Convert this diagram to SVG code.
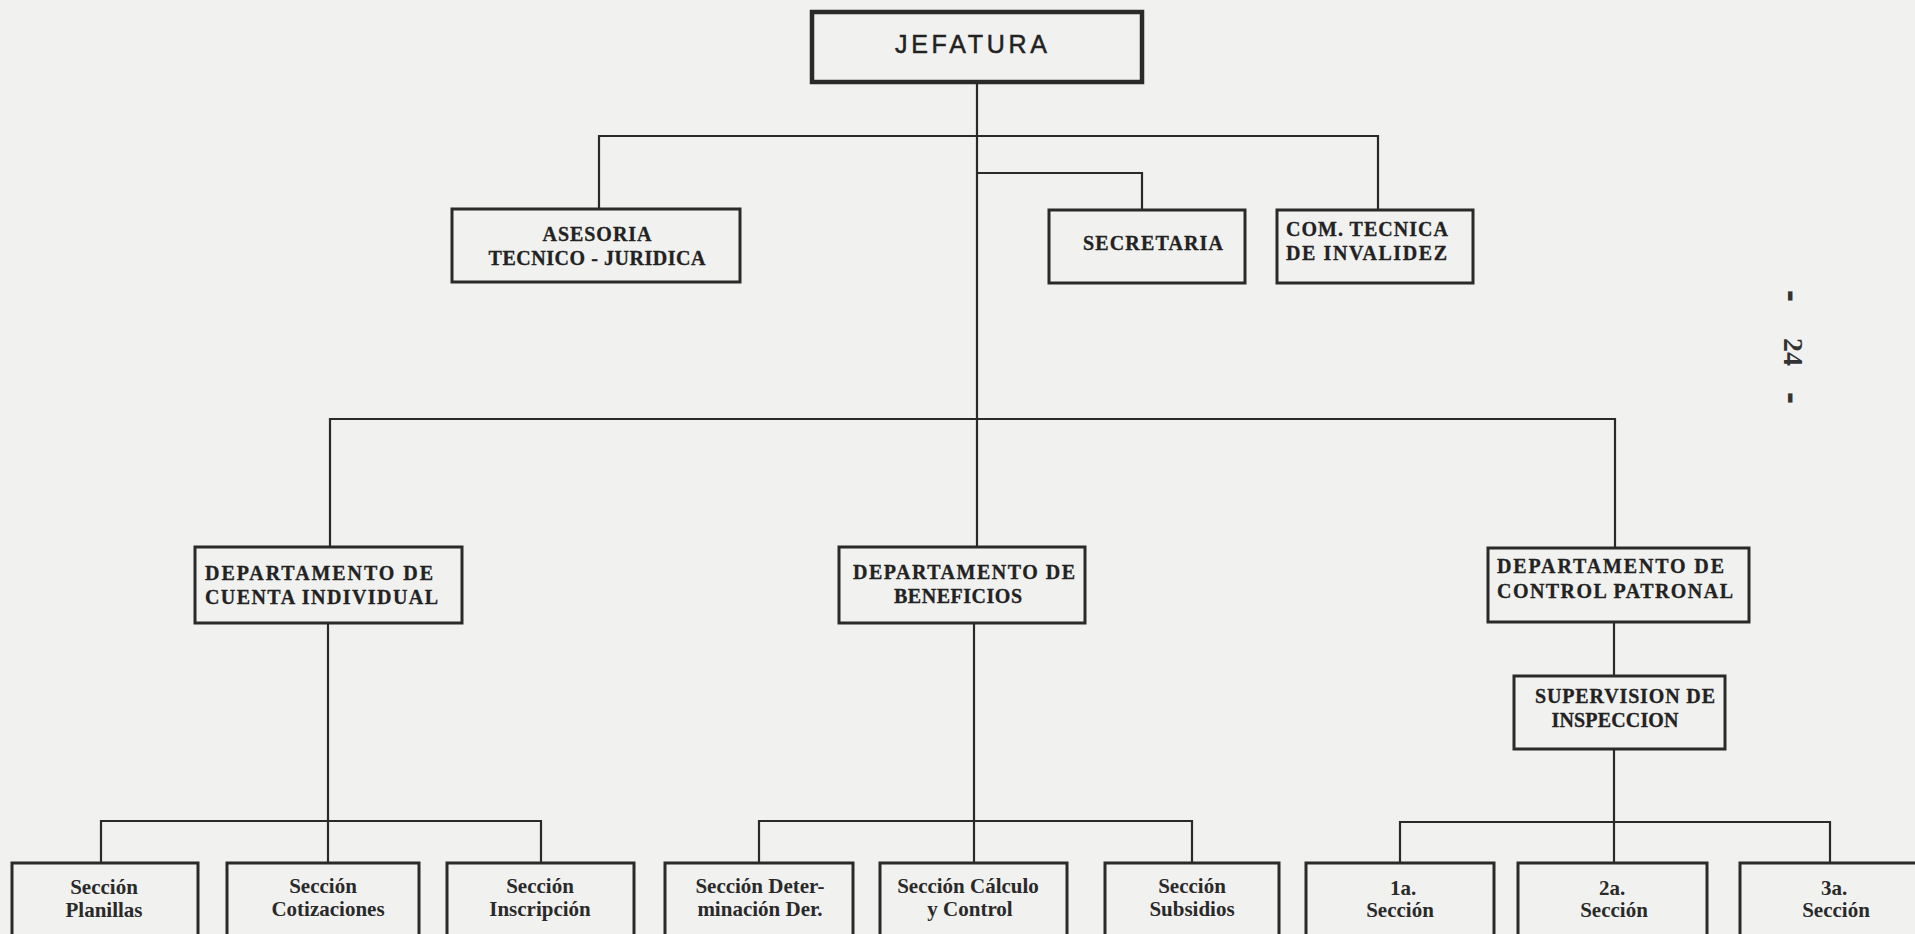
<svg xmlns="http://www.w3.org/2000/svg" width="1915" height="934" viewBox="0 0 1915 934">
<style>
.box{fill:none;stroke:#2a2a2a;stroke-width:3}
.thick{fill:none;stroke:#2a2a2a;stroke-width:4.5}
.ln{fill:none;stroke:#2a2a2a;stroke-width:2.2}
.cap{font-family:"Liberation Serif","Times New Roman",serif;font-weight:bold;font-size:20px;fill:#222;stroke:#222;stroke-width:0.3}
.sec{font-family:"Liberation Serif","Times New Roman",serif;font-weight:bold;font-size:21px;fill:#2a2a2a}
.sans{font-family:"Liberation Sans",Arial,sans-serif;font-size:25px;fill:#222;stroke:#222;stroke-width:0.5}
.pg{font-family:"Liberation Serif","Times New Roman",serif;font-weight:bold;font-size:28px;fill:#333;text-anchor:middle}
.dash{font-family:"Liberation Sans",Arial,sans-serif;font-weight:bold;font-size:36px;fill:#333;text-anchor:middle}
.mid{text-anchor:middle}
</style>
<rect x="0" y="0" width="1915" height="934" fill="#f1f1ef"/>
<g id="connectors">
<path class="ln" d="M977,82 V547"/>
<path class="ln" d="M599,209 V136 H1378 V210"/>
<path class="ln" d="M977,173 H1142 V210"/>
<path class="ln" d="M330,547 V419 H1615 V548"/>
<path class="ln" d="M328,623 V863"/>
<path class="ln" d="M101,863 V821 H541 V863"/>
<path class="ln" d="M974,623 V863"/>
<path class="ln" d="M759,863 V821 H1192 V863"/>
<path class="ln" d="M1614,622 V676"/>
<path class="ln" d="M1614,749 V863"/>
<path class="ln" d="M1400,863 V822 H1830 V863"/>
</g>
<g id="jefatura">
<rect class="thick" x="812" y="12" width="330" height="70"/>
<text class="sans mid" x="971" y="53" textLength="152" lengthAdjust="spacing">JEFATURA</text>
</g>
<g id="asesoria">
<rect class="box" x="452" y="209" width="288" height="73"/>
<text class="cap mid" x="597" y="241" textLength="109" lengthAdjust="spacing">ASESORIA</text>
<text class="cap mid" x="597" y="265" textLength="217" lengthAdjust="spacing">TECNICO - JURIDICA</text>
</g>
<g id="secretaria">
<rect class="box" x="1049" y="210" width="196" height="73"/>
<text class="cap mid" x="1153" y="250" textLength="140" lengthAdjust="spacing">SECRETARIA</text>
</g>
<g id="com-tecnica">
<rect class="box" x="1277" y="210" width="196" height="73"/>
<text class="cap" x="1286" y="236" textLength="162" lengthAdjust="spacing">COM. TECNICA</text>
<text class="cap" x="1286" y="260" textLength="161" lengthAdjust="spacing">DE INVALIDEZ</text>
</g>
<g id="dep-cuenta">
<rect class="box" x="195" y="547" width="267" height="76"/>
<text class="cap" x="205" y="580" textLength="228" lengthAdjust="spacing">DEPARTAMENTO DE</text>
<text class="cap" x="205" y="604" textLength="233" lengthAdjust="spacing">CUENTA INDIVIDUAL</text>
</g>
<g id="dep-beneficios">
<rect class="box" x="839" y="547" width="246" height="76"/>
<text class="cap" x="853" y="579" textLength="222" lengthAdjust="spacing">DEPARTAMENTO DE</text>
<text class="cap mid" x="958" y="603" textLength="128" lengthAdjust="spacing">BENEFICIOS</text>
</g>
<g id="dep-control">
<rect class="box" x="1488" y="548" width="261" height="74"/>
<text class="cap" x="1497" y="573" textLength="227" lengthAdjust="spacing">DEPARTAMENTO DE</text>
<text class="cap" x="1497" y="598" textLength="236" lengthAdjust="spacing">CONTROL PATRONAL</text>
</g>
<g id="supervision">
<rect class="box" x="1514" y="676" width="211" height="73"/>
<text class="cap mid" x="1625" y="703" textLength="180" lengthAdjust="spacing">SUPERVISION DE</text>
<text class="cap mid" x="1615" y="727" textLength="127" lengthAdjust="spacing">INSPECCION</text>
</g>
<g id="sec-planillas">
<rect class="box" x="12" y="863" width="186" height="90"/>
<text class="sec mid" x="104" y="894">Sección</text>
<text class="sec mid" x="104" y="917">Planillas</text>
</g>
<g id="sec-cotizaciones">
<rect class="box" x="227" y="863" width="192" height="90"/>
<text class="sec mid" x="323" y="893">Sección</text>
<text class="sec mid" x="328" y="916">Cotizaciones</text>
</g>
<g id="sec-inscripcion">
<rect class="box" x="447" y="863" width="187" height="90"/>
<text class="sec mid" x="540" y="893">Sección</text>
<text class="sec mid" x="540" y="916">Inscripción</text>
</g>
<g id="sec-determinacion">
<rect class="box" x="665" y="863" width="188" height="90"/>
<text class="sec mid" x="760" y="893">Sección Deter-</text>
<text class="sec mid" x="760" y="916">minación Der.</text>
</g>
<g id="sec-calculo">
<rect class="box" x="880" y="863" width="187" height="90"/>
<text class="sec mid" x="968" y="893">Sección Cálculo</text>
<text class="sec mid" x="970" y="916">y Control</text>
</g>
<g id="sec-subsidios">
<rect class="box" x="1105" y="863" width="174" height="90"/>
<text class="sec mid" x="1192" y="893">Sección</text>
<text class="sec mid" x="1192" y="916">Subsidios</text>
</g>
<g id="sec-1a">
<rect class="box" x="1306" y="863" width="188" height="90"/>
<text class="sec mid" x="1403" y="895">1a.</text>
<text class="sec mid" x="1400" y="917">Sección</text>
</g>
<g id="sec-2a">
<rect class="box" x="1518" y="863" width="189" height="90"/>
<text class="sec mid" x="1612" y="895">2a.</text>
<text class="sec mid" x="1614" y="917">Sección</text>
</g>
<g id="sec-3a">
<rect class="box" x="1740" y="863" width="200" height="90"/>
<text class="sec mid" x="1834" y="895">3a.</text>
<text class="sec mid" x="1836" y="917">Sección</text>
</g>
<g id="page-number">
<text class="dash" transform="translate(1781,296) rotate(90)">-</text>
<text class="pg" transform="translate(1784,352) rotate(90)">24</text>
<text class="dash" transform="translate(1781,398) rotate(90)">-</text>
</g>
</svg>
